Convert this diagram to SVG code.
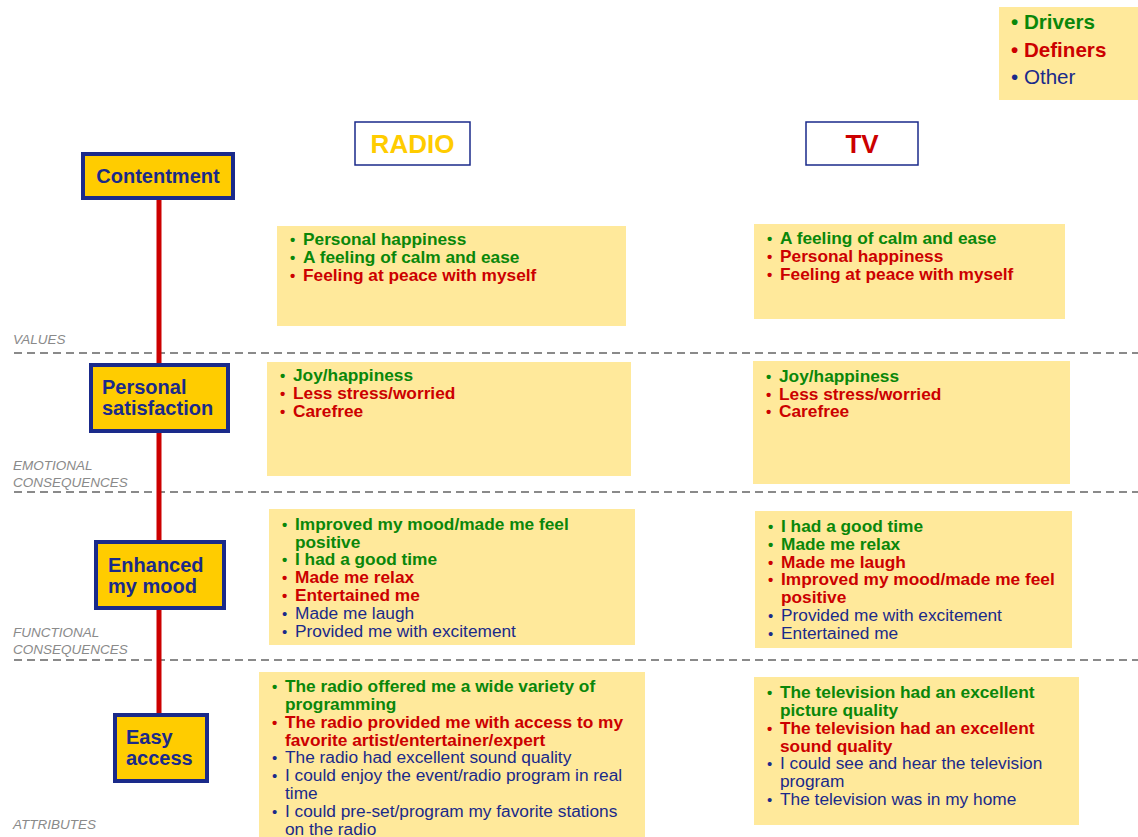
<svg xmlns="http://www.w3.org/2000/svg" width="1138" height="837" viewBox="0 0 1138 837">
  <style>
    text { font-family: "Liberation Sans", Arial, sans-serif; }
    .note { fill: #FFE99B; }
    .node rect { fill: #FFCC00; stroke: #1A2A8A; stroke-width: 4; }
    .node text { font-size: 20px; font-weight: bold; fill: #1A2A8A; }
    .g { fill: #0A870A; font-weight: bold; font-size: 17.3px; }
    .r { fill: #CC0000; font-weight: bold; font-size: 17.3px; }
    .b { fill: #1A2A8A; font-size: 17.3px; }
    .dot { font-size: 15px; }
    .lvl { fill: #8A8A8A; font-size: 13.5px; font-style: italic; }
    .sep { stroke: #8A8A8A; stroke-width: 2; stroke-dasharray: 8 5; fill: none; }
    .head { fill: #FFFFFF; stroke: #1A2A8A; stroke-width: 1.5; }
  </style>

  <!-- legend -->
  <g id="legend">
    <rect class="note" x="999" y="7" width="139" height="93"/>
    <text x="1011" y="29" style="font-size:20.6px;font-weight:bold;fill:#0A870A">• Drivers</text>
    <text x="1011" y="57" style="font-size:20.6px;font-weight:bold;fill:#CC0000">• Definers</text>
    <text x="1011" y="84" style="font-size:20.6px;fill:#1A2A8A">• Other</text>
  </g>

  <!-- column headers -->
  <g id="head-radio">
    <rect class="head" x="355" y="122" width="115" height="43"/>
    <text x="412.5" y="153" text-anchor="middle" style="font-size:26px;font-weight:bold;fill:#FFCC00">RADIO</text>
  </g>
  <g id="head-tv">
    <rect class="head" x="806" y="122" width="112" height="43"/>
    <text x="862" y="153" text-anchor="middle" style="font-size:26px;font-weight:bold;fill:#CC0000">TV</text>
  </g>

  <!-- level separators and labels -->
  <g id="levels">
    <line class="sep" x1="14" y1="353" x2="1138" y2="353"/>
    <line class="sep" x1="14" y1="492" x2="1138" y2="492"/>
    <line class="sep" x1="14" y1="660" x2="1138" y2="660"/>
    <text class="lvl" x="13" y="344">VALUES</text>
    <text class="lvl" x="13" y="470">EMOTIONAL</text>
    <text class="lvl" x="13" y="487">CONSEQUENCES</text>
    <text class="lvl" x="13" y="637">FUNCTIONAL</text>
    <text class="lvl" x="13" y="654">CONSEQUENCES</text>
    <text class="lvl" x="13" y="829">ATTRIBUTES</text>
  </g>

  <!-- ladder connectors -->
  <g id="connectors">
    <line x1="159" y1="199" x2="159" y2="713" stroke="#CC0000" stroke-width="5"/>
  </g>

  <!-- ladder nodes -->
  <g id="contentment" class="node">
    <rect x="83" y="154" width="150" height="44"/>
    <text x="158" y="183" text-anchor="middle">Contentment</text>
  </g>
  <g id="personal-satisfaction" class="node">
    <rect x="91" y="365" width="137" height="66"/>
    <text x="102" y="394">Personal</text>
    <text x="102" y="415">satisfaction</text>
  </g>
  <g id="enhanced-mood" class="node">
    <rect x="96" y="542" width="128" height="66"/>
    <text x="108" y="572">Enhanced</text>
    <text x="108" y="593">my mood</text>
  </g>
  <g id="easy-access" class="node">
    <rect x="115" y="715" width="92" height="66"/>
    <text x="126" y="744">Easy</text>
    <text x="126" y="765">access</text>
  </g>

  <!-- RADIO: values -->
  <g id="radio-values">
    <rect class="note" x="277" y="226" width="349" height="100"/>
    <text class="g dot" x="290" y="245">•</text><text class="g" x="303" y="245">Personal happiness</text>
    <text class="g dot" x="290" y="263">•</text><text class="g" x="303" y="263">A feeling of calm and ease</text>
    <text class="r dot" x="290" y="281">•</text><text class="r" x="303" y="281">Feeling at peace with myself</text>
  </g>

  <!-- TV: values -->
  <g id="tv-values">
    <rect class="note" x="754" y="224" width="311" height="95"/>
    <text class="g dot" x="767" y="244">•</text><text class="g" x="780" y="244">A feeling of calm and ease</text>
    <text class="r dot" x="767" y="262">•</text><text class="r" x="780" y="262">Personal happiness</text>
    <text class="r dot" x="767" y="280">•</text><text class="r" x="780" y="280">Feeling at peace with myself</text>
  </g>

  <!-- RADIO: emotional consequences -->
  <g id="radio-emotional">
    <rect class="note" x="267" y="362" width="364" height="114"/>
    <text class="g dot" x="280" y="381">•</text><text class="g" x="293" y="381">Joy/happiness</text>
    <text class="r dot" x="280" y="399">•</text><text class="r" x="293" y="399">Less stress/worried</text>
    <text class="r dot" x="280" y="417">•</text><text class="r" x="293" y="417">Carefree</text>
  </g>

  <!-- TV: emotional consequences -->
  <g id="tv-emotional">
    <rect class="note" x="753" y="361" width="317" height="123"/>
    <text class="g dot" x="766" y="382">•</text><text class="g" x="779" y="382">Joy/happiness</text>
    <text class="r dot" x="766" y="400">•</text><text class="r" x="779" y="400">Less stress/worried</text>
    <text class="r dot" x="766" y="417">•</text><text class="r" x="779" y="417">Carefree</text>
  </g>

  <!-- RADIO: functional consequences -->
  <g id="radio-functional">
    <rect class="note" x="269" y="509" width="366" height="136"/>
    <text class="g dot" x="282" y="530">•</text><text class="g" x="295" y="530">Improved my mood/made me feel</text>
    <text class="g" x="295" y="548">positive</text>
    <text class="g dot" x="282" y="565">•</text><text class="g" x="295" y="565">I had a good time</text>
    <text class="r dot" x="282" y="583">•</text><text class="r" x="295" y="583">Made me relax</text>
    <text class="r dot" x="282" y="601">•</text><text class="r" x="295" y="601">Entertained me</text>
    <text class="b dot" x="282" y="619">•</text><text class="b" x="295" y="619">Made me laugh</text>
    <text class="b dot" x="282" y="637">•</text><text class="b" x="295" y="637">Provided me with excitement</text>
  </g>

  <!-- TV: functional consequences -->
  <g id="tv-functional">
    <rect class="note" x="755" y="511" width="317" height="137"/>
    <text class="g dot" x="768" y="532">•</text><text class="g" x="781" y="532">I had a good time</text>
    <text class="g dot" x="768" y="550">•</text><text class="g" x="781" y="550">Made me relax</text>
    <text class="r dot" x="768" y="568">•</text><text class="r" x="781" y="568">Made me laugh</text>
    <text class="r dot" x="768" y="585">•</text><text class="r" x="781" y="585">Improved my mood/made me feel</text>
    <text class="r" x="781" y="603">positive</text>
    <text class="b dot" x="768" y="621">•</text><text class="b" x="781" y="621">Provided me with excitement</text>
    <text class="b dot" x="768" y="639">•</text><text class="b" x="781" y="639">Entertained me</text>
  </g>

  <!-- RADIO: attributes -->
  <g id="radio-attributes">
    <rect class="note" x="259" y="672" width="386" height="165"/>
    <text class="g dot" x="272" y="692">•</text><text class="g" x="285" y="692">The radio offered me a wide variety of</text>
    <text class="g" x="285" y="710">programming</text>
    <text class="r dot" x="272" y="728">•</text><text class="r" x="285" y="728">The radio provided me with access to my</text>
    <text class="r" x="285" y="746">favorite artist/entertainer/expert</text>
    <text class="b dot" x="272" y="763">•</text><text class="b" x="285" y="763">The radio had excellent sound quality</text>
    <text class="b dot" x="272" y="781">•</text><text class="b" x="285" y="781">I could enjoy the event/radio program in real</text>
    <text class="b" x="285" y="799">time</text>
    <text class="b dot" x="272" y="817">•</text><text class="b" x="285" y="817">I could pre-set/program my favorite stations</text>
    <text class="b" x="285" y="835">on the radio</text>
  </g>

  <!-- TV: attributes -->
  <g id="tv-attributes">
    <rect class="note" x="754" y="677" width="325" height="148"/>
    <text class="g dot" x="767" y="698">•</text><text class="g" x="780" y="698">The television had an excellent</text>
    <text class="g" x="780" y="716">picture quality</text>
    <text class="r dot" x="767" y="734">•</text><text class="r" x="780" y="734">The television had an excellent</text>
    <text class="r" x="780" y="752">sound quality</text>
    <text class="b dot" x="767" y="769">•</text><text class="b" x="780" y="769">I could see and hear the television</text>
    <text class="b" x="780" y="787">program</text>
    <text class="b dot" x="767" y="805">•</text><text class="b" x="780" y="805">The television was in my home</text>
  </g>
</svg>
